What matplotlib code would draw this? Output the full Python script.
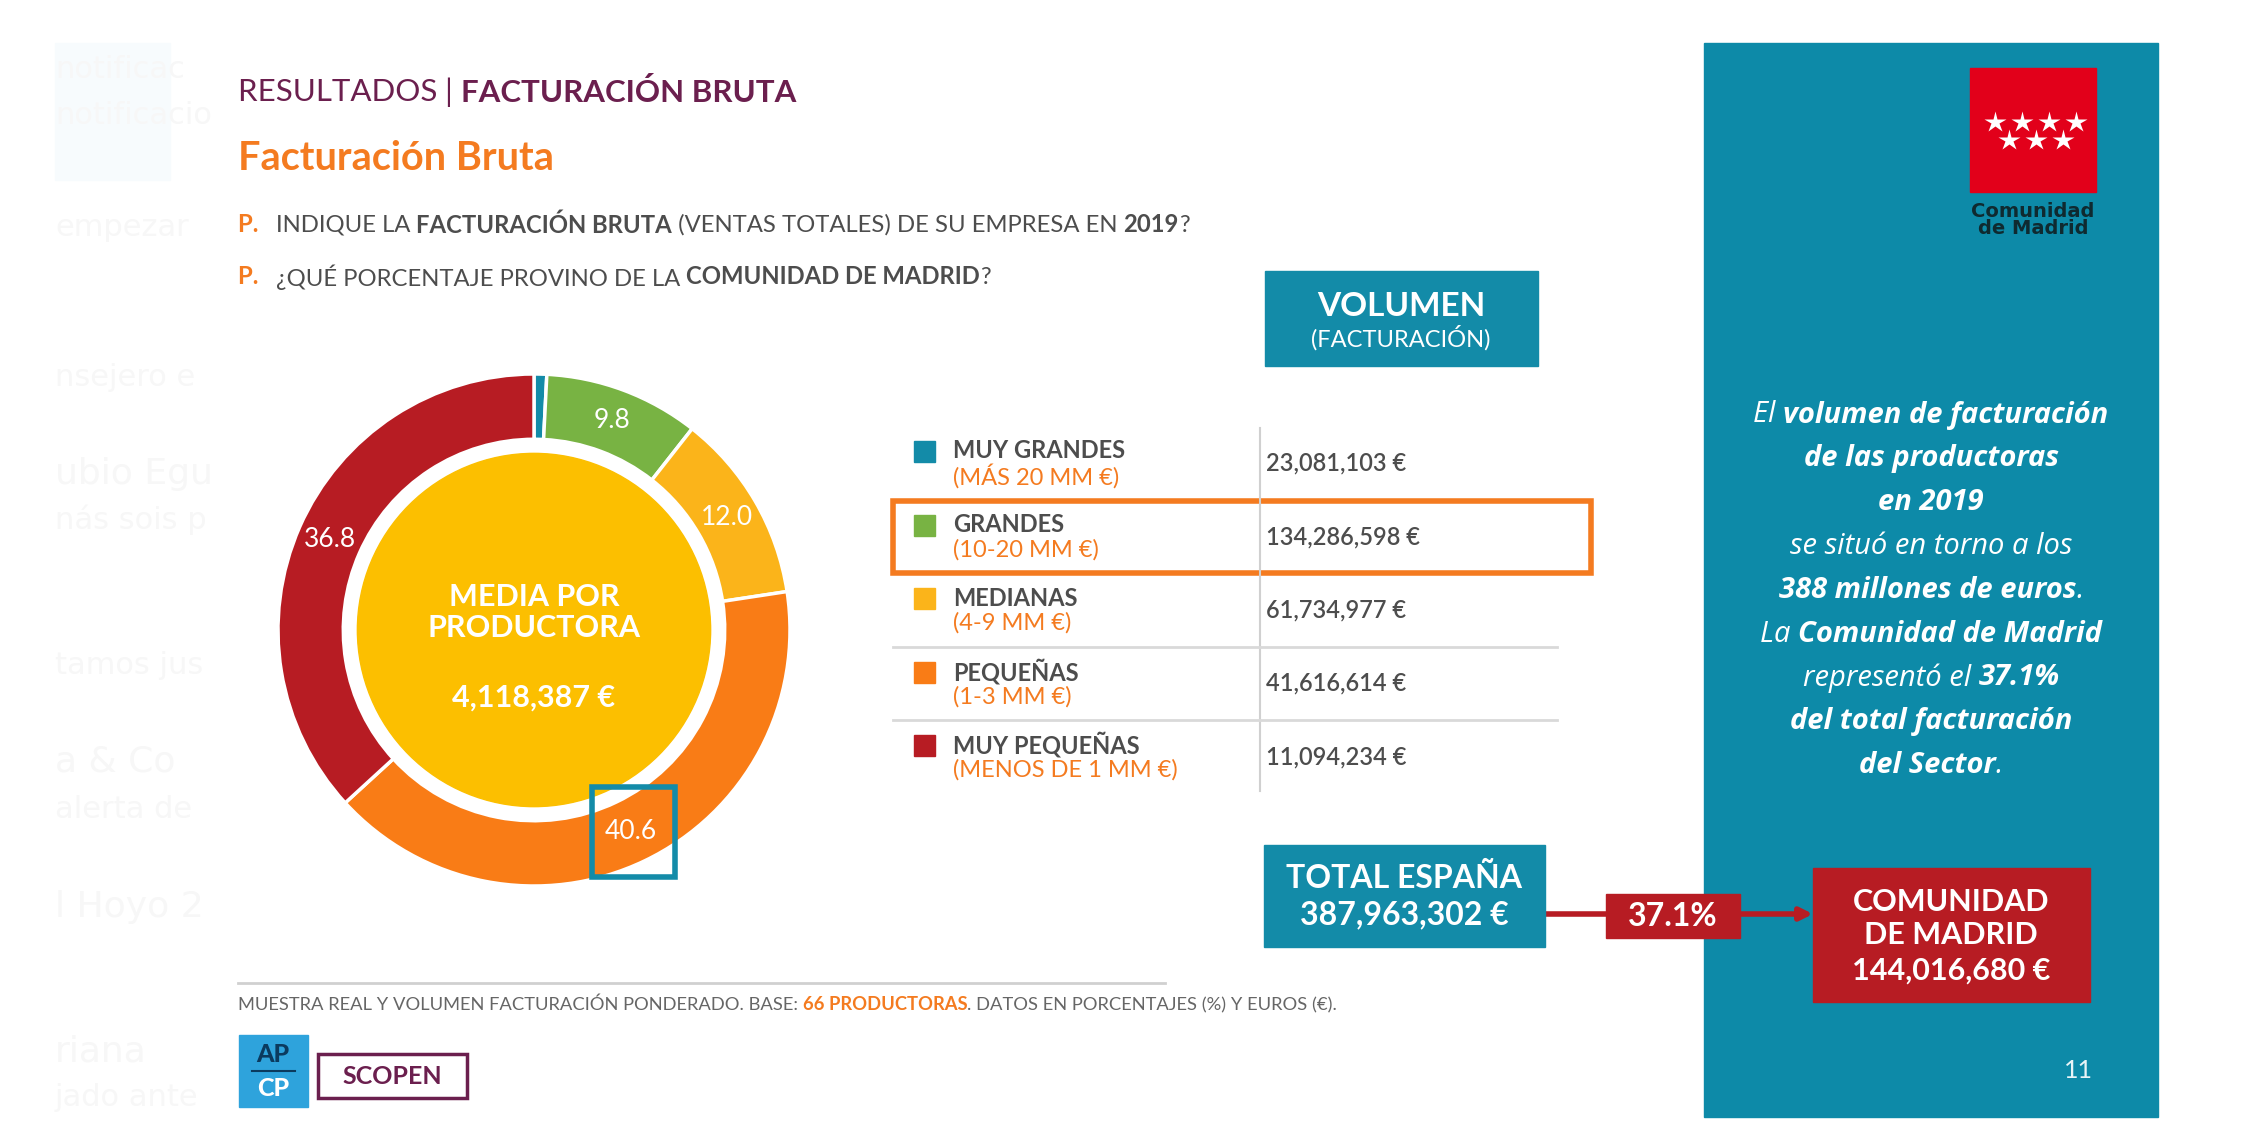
import numpy as np
import matplotlib.pyplot as plt
from matplotlib.patches import Rectangle, Circle

plt.rcParams['font.family'] = ['Lato', 'DejaVu Sans']

# data
segments = ['MUY GRANDES', 'GRANDES', 'MEDIANAS', 'PEQUEÑAS', 'MUY PEQUEÑAS']
ranges = ['(MÁS 20 MM €)', '(10-20 MM €)', '(4-9 MM €)', '(1-3 MM €)', '(MENOS DE 1 MM €)']
shares = [0.8, 9.8, 12.0, 40.6, 36.8]
volumes = [23081103, 134286598, 61734977, 41616614, 11094234]
seg_colors = ['#138ba8', '#78b343', '#fbb41a', '#f97c16', '#b71c23']
media = 4118387
total_spain = 387963302
madrid = 144016680
madrid_pct = 37.1

TEAL = '#138ba8'
RED = '#b71c23'
ORANGE = '#f47b20'
PURPLE = '#6b1f4e'
GREY = '#4d4d4d'

W, H = 2260, 1131
fig = plt.figure(figsize=(W / 100, H / 100), dpi=100)
ax = fig.add_axes([0, 0, 1, 1])
ax.set_xlim(0, W)
ax.set_ylim(H, 0)
ax.axis('off')
renderer = fig.canvas.get_renderer()


def rich(x, y, parts, size, ha='left', style='normal', family=None):
    # parts: (text, weight, color)
    items = []
    cx = x
    for s, w, c in parts:
        t = ax.text(cx, y, s, fontsize=size, fontweight=w, color=c,
                    fontstyle=style, va='center', ha='left')
        if family:
            t.set_family(family)
        cx += t.get_window_extent(renderer).width
        items.append(t)
    if ha == 'center':
        shift = (cx - x) / 2
        for t in items:
            t.set_x(t.get_position()[0] - shift)
    return items


def money(v):
    return f'{v:,} €'


# faint ghost text on the left edge
ax.add_patch(Rectangle((55, 43), 115, 137, color='#f7fbfd', zorder=0))
ghost = [('notificac', 69), ('notificacio', 115), ('empezar', 228), ('nsejero e', 378),
         ('ubio Egu', 474), ('nás sois p', 520), ('tamos jus', 666), ('a & Co', 762),
         ('alerta de', 809), ('l Hoyo 2', 907), ('riana', 1051), ('jado ante', 1097)]
clip = Rectangle((55, 0), 115, H, transform=ax.transData)
for s, yy in ghost:
    t = ax.text(55, yy, s, fontsize=26 if yy in (474, 762, 907, 1051) else 22,
                color='#f7f7f7', va='center', family='DejaVu Sans')
    t.set_clip_path(clip)

# header
rich(238, 92, [('RESULTADOS ', 'normal', PURPLE), ('| ', 'normal', PURPLE),
               ('FACTURACIÓN BRUTA', 'bold', PURPLE)], 22.5)
ax.text(238, 158, 'Facturación Bruta', fontsize=28.5, fontweight='bold', color=ORANGE, va='center')
rich(238, 225, [('P.   ', 'bold', ORANGE), ('INDIQUE LA ', 'normal', GREY),
                ('FACTURACIÓN BRUTA', 'bold', GREY),
                (' (VENTAS TOTALES) DE SU EMPRESA EN ', 'normal', GREY),
                ('2019', 'bold', GREY), ('?', 'normal', GREY)], 17.2)
rich(238, 277, [('P.   ', 'bold', ORANGE), ('¿QUÉ PORCENTAJE PROVINO DE LA ', 'normal', GREY),
                ('COMUNIDAD DE MADRID', 'bold', GREY), ('?', 'normal', GREY)], 17.2)

# donut
cx, cy, R = 534, 630, 256
axd = fig.add_axes([(cx - R) / W, (H - cy - R) / H, 2 * R / W, 2 * R / H])
wedges, _, autotexts = axd.pie(
    shares, colors=seg_colors, startangle=90, counterclock=False, radius=1,
    wedgeprops=dict(width=0.255, edgecolor='white', linewidth=2.5),
    autopct=lambda p: '' if p < 1 else f'{p:.1f}', pctdistance=0.873,
    textprops=dict(color='white', fontsize=19, fontweight='normal'))
axd.add_patch(Circle((0, 0), 0.69, color='#fcbf00'))
axd.text(0, 0.068, 'MEDIA POR\nPRODUCTORA', ha='center', va='center', color='white',
         fontsize=22, fontweight='bold', linespacing=1.1)
axd.text(0, -0.265, money(media), ha='center', va='center', color='white',
         fontsize=22, fontweight='bold')
axd.set_xlim(-1, 1)
axd.set_ylim(-1, 1)
# highlight box around the 40.6 label
axd.add_patch(Rectangle((0.228, -0.963), 0.324, 0.348, fill=False, edgecolor=TEAL,
                        linewidth=4, clip_on=False))

# volumen header
ax.add_patch(Rectangle((1265, 271), 273, 95, color=TEAL))
ax.text(1401, 306, 'VOLUMEN', ha='center', va='center', color='white', fontsize=24, fontweight='bold')
ax.text(1401, 338, '(FACTURACIÓN)', ha='center', va='center', color='white', fontsize=17)

# table
row_y = 463 + 73.5 * np.arange(len(segments))
ax.plot([1260, 1260], [428, 791], color='#d0d0d0', lw=1.5)
for i, (name, rng, vol, col) in enumerate(zip(segments, ranges, volumes, seg_colors)):
    y = row_y[i]
    ax.add_patch(Rectangle((914, y - 22), 21, 21, color=col))
    ax.text(953, y - 12, name, color=GREY, fontsize=17, fontweight='bold', va='center')
    ax.text(953, y + 13, rng, color=ORANGE, fontsize=17, va='center')
    ax.text(1266, y, money(vol), color=GREY, fontsize=17, fontweight='semibold', va='center')
    if i >= 3:
        ax.plot([893, 1557], [y - 37, y - 37], color='#d9d9d9', lw=2)
ax.add_patch(Rectangle((893, row_y[1] - 36), 698, 72, fill=False, edgecolor=ORANGE, lw=4))

# right panel
ax.add_patch(Rectangle((1704, 43), 454, 1074, color='#0d8aa8', zorder=0.5))
ax.add_patch(Rectangle((1970, 68), 126, 124, color='#e2001a'))
for k in range(4):
    ax.plot(1995 + 27 * k, 122, marker='*', color='white', ms=16, mec='none')
for k in range(3):
    ax.plot(2009 + 27 * k, 140, marker='*', color='white', ms=16, mec='none')
ax.text(2033, 220, 'Comunidad\nde Madrid', ha='center', va='center', fontsize=14, fontweight='heavy',
        color='#0f2a30', family='DejaVu Sans', linespacing=0.85)

panel = [
    [('El ', 'normal'), ('volumen de facturación', 'bold')],
    [('de las productoras', 'bold')],
    [('en 2019', 'bold')],
    [('se situó en torno a los', 'normal')],
    [(f'{round(total_spain / 1e6)} millones de euros', 'bold'), ('.', 'normal')],
    [('La ', 'normal'), ('Comunidad de Madrid', 'bold')],
    [('representó el ', 'normal'), (f'{madrid_pct}%', 'bold')],
    [('del total facturación', 'bold')],
    [('del Sector', 'bold'), ('.', 'normal')],
]
for j, line in enumerate(panel):
    rich(1931, 415 + 43.8 * j, [(s, w, 'white') for s, w in line], 21, ha='center',
         style='italic', family=['Open Sans', 'DejaVu Sans'])
ax.text(2078, 1071, '11', ha='center', va='center', color='#e8f4f7', fontsize=18)

# total -> madrid flow
ax.annotate('', xy=(1813, 914), xytext=(1545, 914),
            arrowprops=dict(arrowstyle='-|>', color=RED, lw=4, mutation_scale=18, shrinkA=0, shrinkB=0))
ax.add_patch(Rectangle((1264, 845), 281, 102, color=TEAL, zorder=3))
ax.text(1404, 878, 'TOTAL ESPAÑA', ha='center', va='center', color='white', fontsize=23, fontweight='bold', zorder=4)
ax.text(1404, 915, money(total_spain), ha='center', va='center', color='white', fontsize=23, fontweight='bold', zorder=4)
ax.add_patch(Rectangle((1606, 894), 134, 44, color=RED, zorder=3))
ax.text(1673, 916, f'{madrid_pct}%', ha='center', va='center', color='white', fontsize=23, fontweight='bold', zorder=4)
ax.add_patch(Rectangle((1813, 868), 277, 134, color=RED, zorder=3))
for s, yy in [('COMUNIDAD', 902), ('DE MADRID', 935), (money(madrid), 971)]:
    ax.text(1951, yy, s, ha='center', va='center', color='white', fontsize=22, fontweight='bold', zorder=4)

# footer
ax.plot([238, 1165], [983, 983], color='#d0d0d0', lw=2)
rich(238, 1005, [('MUESTRA REAL Y VOLUMEN FACTURACIÓN PONDERADO. BASE: ', 'normal', '#666666'),
                 ('66 PRODUCTORAS', 'bold', ORANGE),
                 ('. DATOS EN PORCENTAJES (%) Y EUROS (€).', 'normal', '#666666')], 13.2)
ax.add_patch(Rectangle((239, 1035), 69, 72, color='#2ea3dc'))
ax.text(273, 1055, 'AP', ha='center', va='center', color='#0b3a5e', fontsize=18, fontweight='black')
ax.plot([252, 295], [1071, 1071], color='#0b3a5e', lw=1.5)
ax.text(273, 1088, 'CP', ha='center', va='center', color='white', fontsize=18, fontweight='black')
ax.add_patch(Rectangle((318, 1054), 149, 44, fill=False, edgecolor=PURPLE, lw=2.5))
ax.text(392, 1076, 'SCOPEN', ha='center', va='center', color=PURPLE, fontsize=18, fontweight='bold')

fig.savefig('out.png', dpi=100)
